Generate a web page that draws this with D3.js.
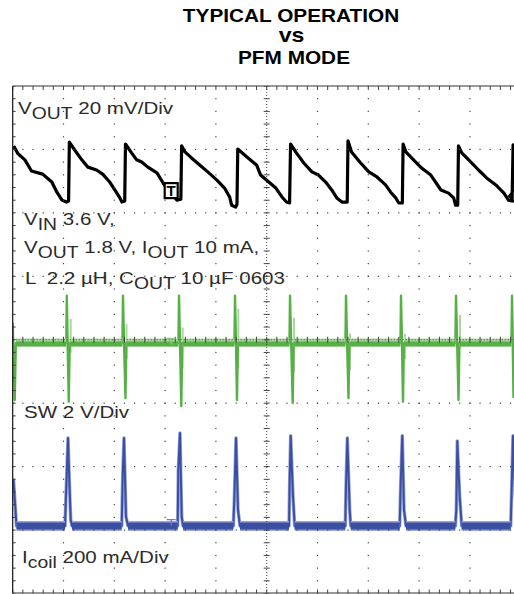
<!DOCTYPE html>
<html><head><meta charset="utf-8">
<script src="https://cdn.jsdelivr.net/npm/d3@7"></script>
<style>html,body{margin:0;padding:0;background:#fff;} svg{display:block;}</style>
</head><body>
<svg id="c" width="514" height="594"></svg>
<script>
// ---------------- DATA ----------------
const titleLines = ["TYPICAL OPERATION", "vs", "PFM MODE"];

// labels: [text, isSubscript]
const labelVout  = [["V",0],["OUT",1],[" 20 mV/Div",0]];
const labelCond1 = [["V",0],["IN",1],[" 3.6 V,",0]];
const labelCond2 = [["V",0],["OUT",1],[" 1.8 V, I",0],["OUT",1],[" 10 mA,",0]];
const labelCond3 = [["L\u20022.2 \u00B5H, C",0],["OUT",1],[" 10 \u00B5F 0603",0]];
const labelSw    = [["SW 2 V/Div",0]];
const labelCoil  = [["I",0],["coil",1],[" 200 mA/Div",0]];

// channel settings (divisions from screen centre, units per division)
const voutRefDiv = 2.586, voutPerDiv = 20;   // mV
const swGndDiv = -0.955,  swPerDiv = 2;      // V
const coilGndDiv = -2.935, coilPerDiv = 200; // mA

// VOUT ripple: [time (div), mV]
const voutPoints = [
 [0.02,9.4],[0.10,7.0],[0.24,5.0],[0.37,1.5],[0.59,0.5],[0.77,-2.0],[0.87,-5.2],[0.97,-7.7],[1.06,-8.3],[1.10,-8.0],[1.115,10.6],
 [1.22,8.1],[1.36,5.0],[1.48,2.7],[1.65,1.8],[1.77,0.5],[1.91,-2.0],[2.01,-4.5],[2.11,-7.0],[2.15,-8.3],[2.205,-8.0],[2.22,10.0],
 [2.34,7.2],[2.44,5.0],[2.54,4.3],[2.66,2.7],[2.84,0.9],[2.95,-2.0],[3.05,-4.5],[3.15,-6.1],[3.23,-7.7],[3.31,-7.4],[3.325,9.4],
 [3.39,7.5],[3.52,5.6],[3.68,3.4],[3.84,1.2],[4.02,-1.4],[4.17,-3.9],[4.27,-6.7],[4.31,-9.3],[4.39,-9.9],[4.415,-9.0],[4.43,8.4],
 [4.61,5.9],[4.80,3.4],[4.88,0.2],[5.04,-2.0],[5.18,-3.9],[5.30,-6.7],[5.39,-8.3],[5.45,-8.6],[5.47,10.0],
 [5.57,7.5],[5.73,4.0],[5.89,1.2],[6.02,0.2],[6.16,-2.0],[6.28,-4.5],[6.38,-7.0],[6.48,-8.3],[6.585,-8.3],[6.60,11.0],
 [6.67,7.5],[6.85,4.0],[7.01,1.2],[7.17,-0.4],[7.34,-2.9],[7.44,-5.2],[7.54,-7.0],[7.60,-8.6],[7.67,-8.6],[7.685,10.0],
 [7.74,7.5],[7.89,5.0],[8.05,2.4],[8.23,0.2],[8.43,-4.5],[8.58,-5.5],[8.68,-7.0],[8.72,-9.3],[8.76,-9.3],[8.775,9.4],
 [8.84,7.2],[9.02,4.3],[9.17,1.8],[9.33,-0.7],[9.51,-2.9],[9.67,-5.5],[9.76,-7.7],[9.83,-8.0],[9.85,9.7],[9.90,9.0]
];

// SW node: [time (div), V]
const swPoints = [
 [0.000,2.44],[0.040,0.01],[0.062,1.81],
 [1.055,1.81],[1.065,3.30],[1.080,1.90],[1.104,-0.04],[1.122,1.81],
 [2.160,1.81],[2.171,3.30],[2.190,1.90],[2.220,0.07],[2.238,1.81],
 [3.262,1.81],[3.274,3.30],[3.292,1.90],[3.319,-0.18],[3.337,1.81],
 [4.365,1.81],[4.376,3.30],[4.394,1.90],[4.415,0.01],[4.433,1.81],
 [5.448,1.81],[5.459,3.30],[5.480,1.90],[5.512,-0.08],[5.530,1.81],
 [6.550,1.81],[6.561,3.30],[6.582,1.90],[6.610,0.07],[6.628,1.81],
 [7.633,1.81],[7.644,3.30],[7.662,1.90],[7.683,-0.04],[7.701,1.81],
 [8.715,1.81],[8.726,3.30],[8.748,1.90],[8.776,0.01],[8.794,1.81],
 [9.818,1.81],[9.829,3.30],[9.843,1.90],[9.858,0.11],[9.876,1.81],[10.0,1.81]
];
// SW secondary ringing (lighter trace): time, high V, low V
const swRingTime = [1.142, 2.240, 3.346, 4.441, 5.537, 6.640, 7.723, 8.805];
const swRingHigh = [2.57, 2.40, 2.30, 2.89, 2.60, 2.11, 2.10, 2.69];
const swRingLow  = [1.50, 1.30, 1.00, 1.00, 0.90, 0.96, 1.30, 1.65];

// Inductor current: [time (div), mA]
const coilPoints = [
 [0.000,145],[0.016,145],[0.075,0],
 [1.030,0],[1.049,97],[1.089,277],[1.114,145],[1.142,19],[1.167,0],
 [2.146,0],[2.165,155],[2.191,277],[2.230,29],[2.270,0],
 [3.248,0],[3.260,176],[3.293,293],[3.327,29],[3.352,0],
 [4.343,0],[4.362,82],[4.396,277],[4.435,50],[4.474,0],
 [5.439,0],[5.453,145],[5.472,284],[5.518,92],[5.551,0],
 [6.547,0],[6.561,124],[6.587,277],[6.634,50],[6.654,0],
 [7.618,0],[7.638,134],[7.669,284],[7.703,50],[7.742,0],
 [8.713,0],[8.732,50],[8.752,268],[8.799,92],[8.839,0],
 [9.803,0],[9.823,120],[9.848,284],[9.878,150],[9.927,0],[10.0,0]
];

// trigger markers: time (div), level in channel units
const trigTime = 3.12;
const trigVout = -4.7, trigSw = 1.95, trigCoil = 20;

// ---------------- DRAW ----------------
const FONT = "'Liberation Sans', Arial, Helvetica, sans-serif";
const SX = 1.21;
const svg = d3.select("#c");
const x = d3.scaleLinear().domain([0, 10]).range([12.7, 520.7]);
const yd = d3.scaleLinear().domain([-4, 4]).range([593.5, 86]);
const yV = v => yd(voutRefDiv + v / voutPerDiv);
const yS = v => yd(swGndDiv + v / swPerDiv);
const yC = v => yd(coilGndDiv + v / coilPerDiv);

svg.append("rect").attr("width", 514).attr("height", 594).attr("fill", "#fff");

// Title
const titleY = [22.3, 42.3, 64.3], titleSize = [18, 20, 18], titleX = [291, 291.5, 294];
titleLines.forEach((t, i) => {
  svg.append("text")
    .attr("transform", `translate(${titleX[i]},${titleY[i]}) scale(1.155,1)`)
    .attr("text-anchor", "middle").attr("font-family", FONT).attr("font-weight", "bold")
    .attr("font-size", titleSize[i]).attr("fill", "#000").text(t);
});

svg.append("clipPath").attr("id", "clip").append("rect")
  .attr("x", x(0)).attr("y", yd(4)).attr("width", 514 - x(0)).attr("height", yd(-4) - yd(4));
const plot = svg.append("g").attr("clip-path", "url(#clip)");

const GREEN = "#56b046", GREEN_L = "#a9d99e";
const BLUE = "#3b4ea2", BLUE_L = "#9aa5d8";
const lineSw = d3.line().x(d => x(d[0])).y(d => yS(d[1]));
const lineC = d3.line().x(d => x(d[0])).y(d => yC(d[1]));
const lineV = d3.line().x(d => x(d[0])).y(d => yV(d[1]));

function baselinePairs(points, base) {
  const out = [];
  for (let i = 0; i < points.length - 1; i++)
    if (points[i][1] === base && points[i + 1][1] === base) out.push([points[i], points[i + 1]]);
  return out;
}

// ---- SW (green)
const swBase = baselinePairs(swPoints, 1.81);
plot.selectAll(".ring").data(swRingTime).join("line")
  .attr("x1", d => x(d)).attr("x2", d => x(d))
  .attr("y1", (d, i) => yS(swRingHigh[i])).attr("y2", (d, i) => yS(swRingLow[i]))
  .attr("stroke", GREEN_L).attr("stroke-width", 2);
plot.append("path").attr("d", lineSw(swPoints)).attr("fill", "none")
  .attr("stroke", GREEN).attr("stroke-width", 2.4).attr("stroke-linejoin", "round");
plot.selectAll(".swBandL").data(swBase).join("path")
  .attr("d", lineSw).attr("stroke", GREEN_L).attr("stroke-width", 8).attr("fill", "none")
  .attr("transform", "translate(0,-0.5)");
plot.selectAll(".swBand").data(swBase).join("path")
  .attr("d", lineSw).attr("stroke", GREEN).attr("stroke-width", 5).attr("fill", "none")
  .attr("transform", "translate(0,1)");

// ---- Icoil (blue)
const cBase = baselinePairs(coilPoints, 0);
plot.append("path").attr("d", lineC(coilPoints)).attr("fill", "none")
  .attr("stroke", BLUE_L).attr("stroke-width", 3.5).attr("stroke-linejoin", "round");
plot.append("path").attr("d", lineC(coilPoints)).attr("fill", "none")
  .attr("stroke", BLUE).attr("stroke-width", 2).attr("stroke-linejoin", "round");
plot.selectAll(".cBandL").data(cBase).join("path")
  .attr("d", lineC).attr("stroke", BLUE_L).attr("stroke-width", 10).attr("fill", "none");
plot.selectAll(".cBand").data(cBase).join("path")
  .attr("d", lineC).attr("stroke", BLUE).attr("stroke-width", 7).attr("fill", "none");

// ---- VOUT (black)
plot.append("path").attr("d", lineV(voutPoints)).attr("fill", "none")
  .attr("stroke", "#000").attr("stroke-width", 3.2).attr("stroke-linejoin", "round");

// ---------------- GRATICULE ----------------
const grid = svg.append("g").attr("clip-path", "url(#clip)");
const GC = "#444";
const minorX = d3.range(0, 50.001, 1).map(i => i * 0.2);
const minorY = d3.range(0, 40.001, 1).map(i => -4 + i * 0.2);
const majorX = [1, 2, 3, 4, 6, 7, 8, 9];
const majorY = [-3, -2, -1, 1, 2, 3];
grid.selectAll(".vd").data(d3.cross(majorX, minorY)).join("rect")
  .attr("x", d => x(d[0]) - 0.6).attr("y", d => yd(d[1]) - 0.6)
  .attr("width", 1.2).attr("height", 1.2).attr("fill", GC);
grid.selectAll(".hd").data(d3.cross(minorX, majorY)).join("rect")
  .attr("x", d => x(d[0]) - 0.6).attr("y", d => yd(d[1]) - 0.6)
  .attr("width", 1.2).attr("height", 1.2).attr("fill", GC);
// centre axes
grid.append("line").attr("x1", x(5)).attr("x2", x(5)).attr("y1", yd(4)).attr("y2", yd(-4))
  .attr("stroke", GC).attr("stroke-width", 1).attr("stroke-dasharray", "1,2");
grid.append("line").attr("x1", x(0)).attr("x2", x(10)).attr("y1", yd(0)).attr("y2", yd(0))
  .attr("stroke", GC).attr("stroke-width", 1).attr("stroke-dasharray", "1,2");
grid.selectAll(".cty").data(minorY).join("line")
  .attr("x1", x(5) - 3).attr("x2", x(5) + 3).attr("y1", d => yd(d)).attr("y2", d => yd(d))
  .attr("stroke", GC).attr("stroke-width", 1);
grid.selectAll(".ctx").data(minorX).join("line")
  .attr("x1", d => x(d)).attr("x2", d => x(d)).attr("y1", yd(0) - 3).attr("y2", yd(0) + 3)
  .attr("stroke", GC).attr("stroke-width", 1);
// border + border ticks
svg.append("line").attr("x1", x(0)).attr("x2", 514).attr("y1", yd(4)).attr("y2", yd(4))
  .attr("stroke", "#333").attr("stroke-width", 1);
svg.append("line").attr("x1", x(0)).attr("x2", 514).attr("y1", yd(-4) - 0.5).attr("y2", yd(-4) - 0.5)
  .attr("stroke", "#333").attr("stroke-width", 1);
svg.append("line").attr("x1", x(0)).attr("x2", x(0)).attr("y1", yd(4)).attr("y2", yd(-4))
  .attr("stroke", "#111").attr("stroke-width", 1.2);
grid.selectAll(".tt").data(minorX).join("line")
  .attr("x1", d => x(d)).attr("x2", d => x(d)).attr("y1", yd(4)).attr("y2", yd(4) + 4)
  .attr("stroke", GC).attr("stroke-width", 1);
grid.selectAll(".bt").data(minorX).join("line")
  .attr("x1", d => x(d)).attr("x2", d => x(d)).attr("y1", yd(-4)).attr("y2", yd(-4) - 4)
  .attr("stroke", GC).attr("stroke-width", 1);
grid.selectAll(".lt").data(minorY).join("line")
  .attr("x1", x(0)).attr("x2", x(0) + 3).attr("y1", d => yd(d)).attr("y2", d => yd(d))
  .attr("stroke", GC).attr("stroke-width", 1);

// ---------------- MARKERS ----------------
const tx = x(trigTime);
const tv = svg.append("g").attr("transform", `translate(${tx},${yV(trigVout)})`);
tv.append("rect").attr("x", -6.5).attr("y", -7.5).attr("width", 13).attr("height", 15)
  .attr("fill", "#fff").attr("stroke", "#000").attr("stroke-width", 2.2);
tv.append("text").attr("text-anchor", "middle").attr("y", 5.5).attr("font-family", FONT)
  .attr("font-weight", "bold").attr("font-size", 15).attr("fill", "#000").text("T");
function tMark(yy, col) {
  svg.append("path").attr("d", `M${tx - 4.5},${yy}H${tx + 4.5}M${tx},${yy}V${yy + 6}`)
    .attr("stroke", col).attr("stroke-width", 1.3).attr("fill", "none");
}
tMark(yS(trigSw), "#8cc97c");
tMark(yC(trigCoil), "#6f7fc4");
// channel edge marker (VOUT) at right edge
svg.append("path").attr("d", `M514,${yV(-6.4) - 6} L509,${yV(-6.4)} L514,${yV(-6.4) + 6}`)
  .attr("stroke", "#000").attr("stroke-width", 2).attr("fill", "none");

// ---------------- LABELS ----------------
function drawLabel(parts, px, py) {
  const t = svg.append("text")
    .attr("transform", `translate(${px},${py}) scale(${SX},1)`)
    .attr("font-family", FONT).attr("font-size", 17).attr("fill", "#2b2b2b")
    .style("white-space", "pre");
  let shifted = false;
  parts.forEach(([s, sub]) => {
    const ts = t.append("tspan").text(s);
    if (sub) { ts.attr("font-size", 16); if (!shifted) { ts.attr("dy", 4.5); shifted = true; } }
    else if (shifted) { ts.attr("dy", -4.5); shifted = false; }
  });
}
drawLabel(labelVout, 18, 114);
drawLabel(labelCond1, 24, 225);
drawLabel(labelCond2, 24, 253);
drawLabel(labelCond3, 25, 284);
drawLabel(labelSw, 24, 418);
drawLabel(labelCoil, 22, 563);
</script>
</body></html>
